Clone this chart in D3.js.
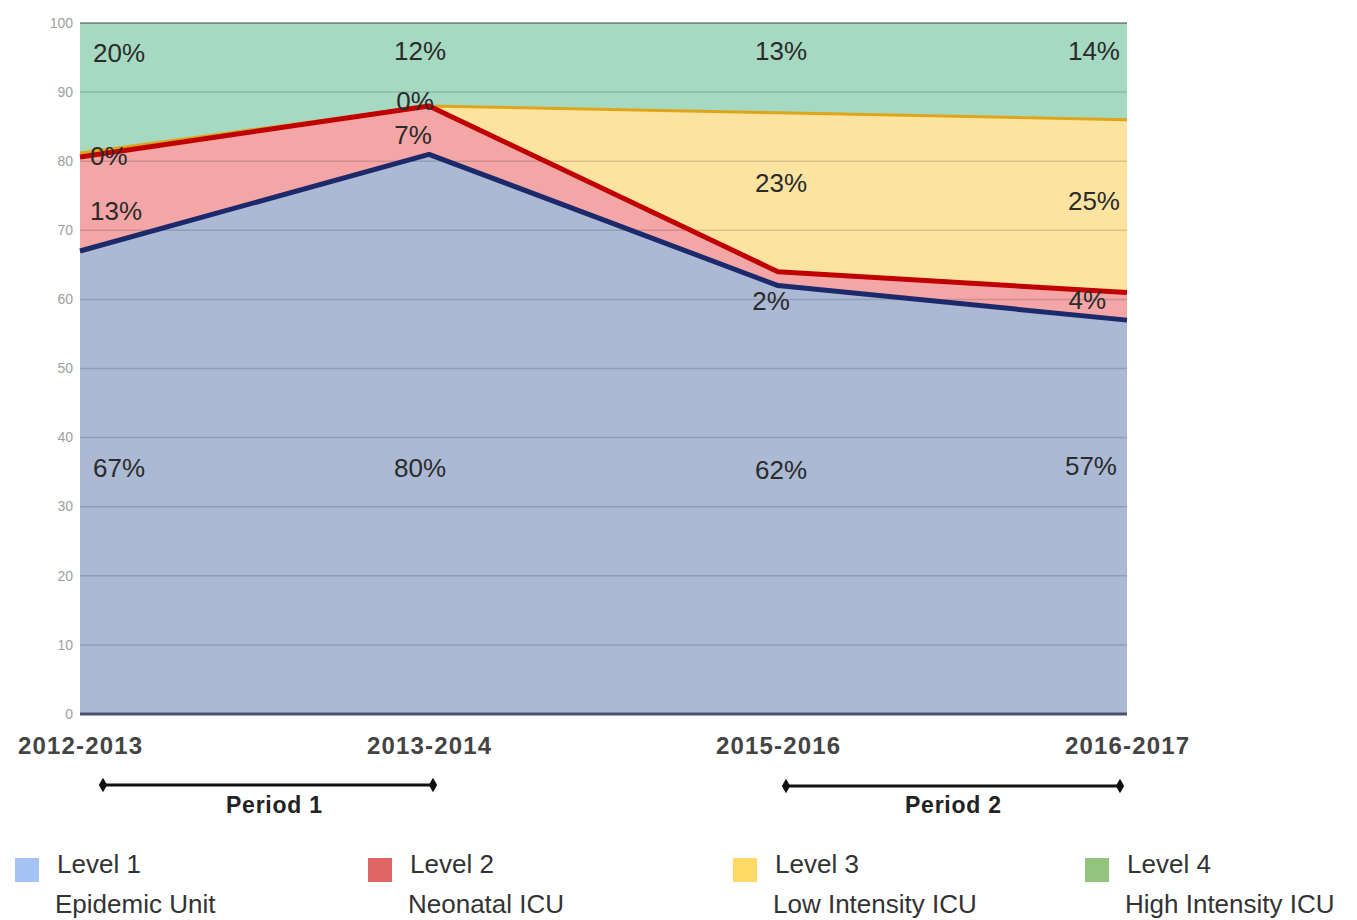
<!DOCTYPE html>
<html>
<head>
<meta charset="utf-8">
<script src="https://cdn.jsdelivr.net/npm/d3@7"></script>
<style>
  body { margin: 0; background: #fff; }
  svg { font-family: "Liberation Sans", Arial, sans-serif; }
</style>
</head>
<body>
<div id="container"></div>
<script>
// data (stacked percentages)
const years = ["2012-2013", "2013-2014", "2015-2016", "2016-2017"];
const level1 = [67, 81, 62, 57];
const level2 = [13.6, 7, 2, 4];
const level3 = [0.6, 0, 23, 25];
const level4 = [18.8, 12, 13, 14];

// labels printed on the chart
const level1Labels = ["67%", "80%", "62%", "57%"];
const level2Labels = ["13%", "7%", "2%", "4%"];
const level3Labels = ["0%", "0%", "23%", "25%"];
const level4Labels = ["20%", "12%", "13%", "14%"];

const yTicks = [0, 10, 20, 30, 40, 50, 60, 70, 80, 90, 100];
const levelNames = ["Level 1", "Level 2", "Level 3", "Level 4"];
const levelDesc = ["Epidemic Unit", "Neonatal ICU", "Low Intensity ICU", "High Intensity ICU"];
const periods = [["Period 1", "2012-2013", "2013-2014"], ["Period 2", "2015-2016", "2016-2017"]];

const fills = ["#abb9d4", "#f4a6a6", "#fde3a0", "#a6d9c2"];
const lineColors = ["#1c2a6b", "#c00000", "#dfa51a", null];
const lineWidths = [5, 5, 3, 0];
const legendColors = ["#a4c2f4", "#e06666", "#ffd966", "#93c47d"];

const svg = d3.select("#container").append("svg")
    .attr("width", 1357)
    .attr("height", 920);

const x = d3.scalePoint().domain(years).range([80, 1127]);
const y = d3.scaleLinear().domain([0, 100]).range([714, 23]);

const rows = years.map((yr, i) => ({
    year: yr, l1: level1[i], l2: level2[i], l3: level3[i], l4: level4[i]
}));
const keys = ["l1", "l2", "l3", "l4"];
const stacked = d3.stack().keys(keys)(rows);

const area = d3.area()
    .x(d => x(d.data.year))
    .y0(d => y(d[0]))
    .y1(d => y(d[1]));

const g = svg.append("g");

g.selectAll("path.area")
    .data(stacked)
    .enter().append("path")
    .attr("class", "area")
    .attr("fill", (d, i) => fills[i])
    .attr("d", area);

// gridlines sit on top of the fills
g.selectAll("line.grid")
    .data(yTicks.filter(t => t > 0))
    .enter().append("line")
    .attr("x1", 80).attr("x2", 1127)
    .attr("y1", d => y(d)).attr("y2", d => y(d))
    .attr("stroke", "#000")
    .attr("stroke-opacity", d => d === 100 ? 0.35 : 0.14)
    .attr("stroke-width", d => d === 100 ? 2 : 1.5);

// baseline
g.append("line")
    .attr("x1", 80).attr("x2", 1127)
    .attr("y1", y(0)).attr("y2", y(0))
    .attr("stroke", "#4a5070")
    .attr("stroke-width", 3);

// boundary lines on top of each series
const line = d3.line()
    .x(d => x(d.data.year))
    .y(d => y(d[1]));

[2, 1, 0].forEach(i => {
    g.append("path")
        .datum(stacked[i])
        .attr("fill", "none")
        .attr("stroke", lineColors[i])
        .attr("stroke-width", lineWidths[i])
        .attr("stroke-linejoin", "round")
        .attr("d", line);
});

// y axis tick labels
svg.append("g").selectAll("text")
    .data(yTicks)
    .enter().append("text")
    .attr("x", 73)
    .attr("y", d => y(d) + 1)
    .attr("text-anchor", "end")
    .attr("dominant-baseline", "middle")
    .attr("font-size", 14)
    .attr("fill", "#a0a0a0")
    .text(d => d);

// x axis labels
svg.append("g").selectAll("text")
    .data(years)
    .enter().append("text")
    .attr("x", d => x(d))
    .attr("y", 754)
    .attr("text-anchor", "middle")
    .attr("font-size", 24)
    .attr("font-weight", "bold")
    .attr("fill", "#444")
    .attr("textLength", 124)
    .text(d => d);

// value labels: [labels, y positions, x nudges]
const labelSets = [
    [level4Labels, [55, 53, 53, 53], [0, 0, 0, 0]],
    [level3Labels, [158, 103, 185, 203], [-3, -5, 0, 0]],
    [level2Labels, [213, 137, 303, 302], [-3, -7, -10, -14]],
    [level1Labels, [470, 470, 472, 468], [0, 0, 0, -3]]
];
const labelX = [93, 420, 781, 1120];
const labelAnchor = ["start", "middle", "middle", "end"];

labelSets.forEach(([labels, ys, dx]) => {
    svg.append("g").selectAll("text")
        .data(labels)
        .enter().append("text")
        .attr("x", (d, i) => labelX[i] + dx[i])
        .attr("y", (d, i) => ys[i])
        .attr("text-anchor", (d, i) => labelAnchor[i])
        .attr("dominant-baseline", "middle")
        .attr("font-size", 26)
        .attr("fill", "#2b2b2b")
        .text(d => d);
});

// period brackets
const periodG = svg.append("g");
periods.forEach(([name, from, to], k) => {
    const x1 = x(from) + (k === 0 ? 23 : 8);
    const x2 = x(to) + (k === 0 ? 4 : -7);
    const yy = 785 + k;
    periodG.append("line")
        .attr("x1", x1).attr("x2", x2)
        .attr("y1", yy).attr("y2", yy)
        .attr("stroke", "#111").attr("stroke-width", 3);
    [x1, x2].forEach(px => {
        periodG.append("path")
            .attr("d", d3.symbol(d3.symbolDiamond, 60)())
            .attr("transform", `translate(${px},${yy})`)
            .attr("fill", "#111");
    });
    periodG.append("text")
        .attr("x", (x1 + x2) / 2 + (k === 0 ? 6 : 0))
        .attr("y", 813)
        .attr("text-anchor", "middle")
        .attr("font-size", 23)
        .attr("font-weight", "bold")
        .attr("fill", "#222")
        .attr("textLength", 96)
        .text(name);
});

// legend
const legendX = [15, 368, 733, 1085];
const legend = svg.append("g").selectAll("g")
    .data(levelNames)
    .enter().append("g")
    .attr("transform", (d, i) => `translate(${legendX[i]},0)`);

legend.append("rect")
    .attr("x", 0).attr("y", 858)
    .attr("width", 24).attr("height", 24)
    .attr("fill", (d, i) => legendColors[i]);

legend.append("text")
    .attr("x", 42).attr("y", 873)
    .attr("font-size", 26)
    .attr("fill", "#333")
    .text(d => d);

legend.append("text")
    .attr("x", 40).attr("y", 913)
    .attr("font-size", 26)
    .attr("fill", "#333")
    .text((d, i) => levelDesc[i]);
</script>
</body>
</html>
